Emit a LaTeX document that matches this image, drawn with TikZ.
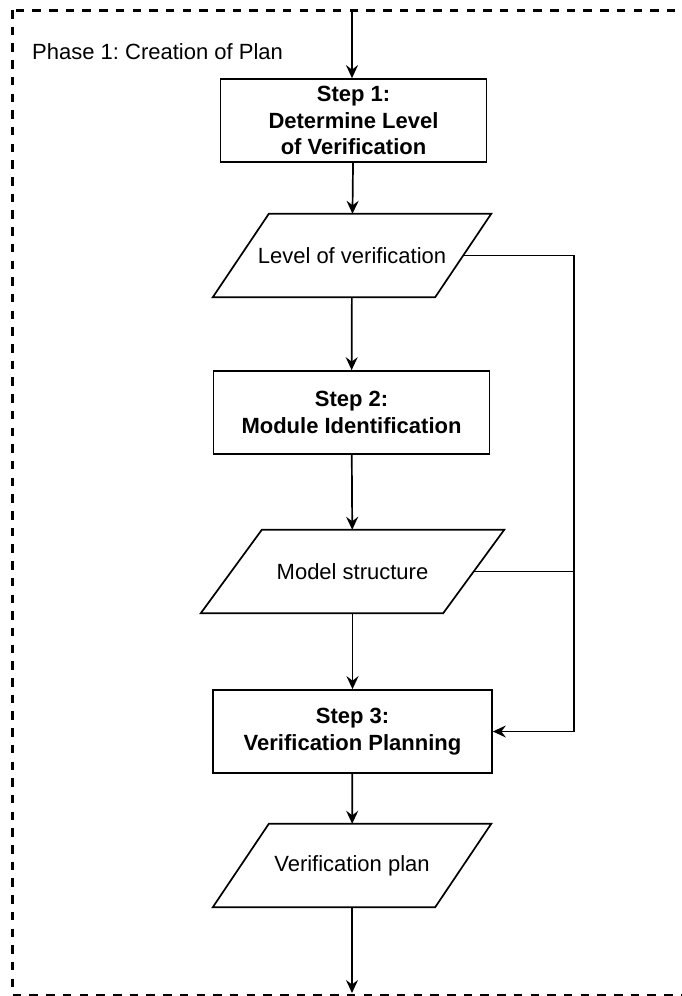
\documentclass[tikz,border=0pt]{standalone}
\usepackage{fontspec}
\setmainfont{Liberation Sans}
\usetikzlibrary{arrows.meta}
\frenchspacing

% outline of a data (parallelogram) node: top edge shifted right, bottom edge left
\newcommand\slantoutline[2]{%
  \draw[link] ([xshift=#2]#1.north west) -- ([xshift=#2]#1.north east)
    -- ([xshift=-#2]#1.south east) -- ([xshift=-#2]#1.south west) -- cycle;}

\begin{document}
\begin{tikzpicture}[x=1pt,y=-1pt,
  txt/.style={font=\fontsize{22}{26.4}\selectfont},
  stepbox/.style={draw, line width=1.7pt, minimum height=83pt, inner sep=0pt,
    align=center, font=\bfseries\fontsize{22}{26.4}\selectfont},
  databox/.style={inner sep=0pt, minimum height=83pt, txt},
  link/.style={line width=1.7pt},
  flow/.style={link, -{Stealth[length=13pt,width=12pt,inset=4.5pt]}},
  phase/.style={line width=3pt, dash pattern=on 8.5pt off 8.2pt}
]
\useasboundingbox (0,0) rectangle (682,996);
\clip (0,0) rectangle (682,996);
\fill[white] (0,0) rectangle (682,996);

% phase frame and its title
\draw[phase] (12.5,10) rectangle (720,995);
\node[txt, anchor=base west, inner sep=0pt] (title) at (32,59) {Phase 1: Creation of Plan};

% entry and exit points on the frame
\coordinate (entry) at (352,10);
\coordinate (exit) at (352,993);
\coordinate (rail) at (574,0);

% process steps
\node[stepbox, minimum width=266pt] (s1) at (353.5,120.5) {Step 1:\\Determine Level\\of Verification};
\node[stepbox, minimum width=276pt] (s2) at (351.5,412.5) {Step 2:\\Module Identification};
\node[stepbox, minimum width=279pt] (s3) at (352.5,731.5) {Step 3:\\Verification Planning};

% data items
\node[databox, minimum width=222pt] (p1) at (352,255.5) {Level of verification};
\slantoutline{p1}{28pt}
\node[databox, minimum width=242pt] (p2) at (352.5,571.5) {Model structure};
\slantoutline{p2}{30.5pt}
\node[databox, minimum width=222pt] (p3) at (352,865.5) {Verification plan};
\slantoutline{p3}{28pt}

% main flow
\draw[flow] (entry) -- (entry |- s1.north);
\draw[flow] (s1) -- (p1);
\draw[flow] (p1) -- (s2);
\draw[flow] (s2) -- (p2);
\draw[flow] (p2) -- (s3);
\draw[flow] (s3) -- (p3);
\draw[flow] (p3) -- (exit);

% side rail feeding step 3
\draw[flow] (p1.east) -- (p1.east -| rail) -- (rail |- s3.east) -- (s3.east);
\draw[link] (p2.east) -- (p2.east -| rail);
\end{tikzpicture}
\end{document}
